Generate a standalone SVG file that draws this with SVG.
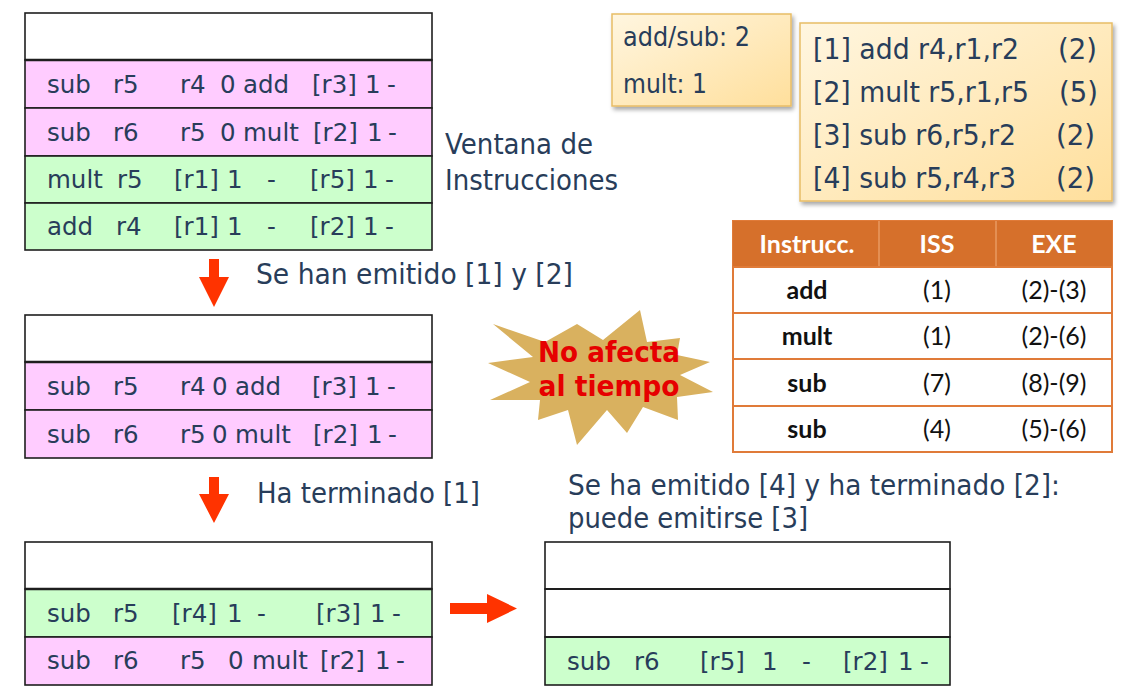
<svg xmlns="http://www.w3.org/2000/svg" width="1128" height="690" viewBox="0 0 1128 690">
<defs>
<linearGradient id="note" x1="0" y1="0" x2="1" y2="1">
<stop offset="0" stop-color="#fff6e0"/>
<stop offset="1" stop-color="#ffdf9c"/>
</linearGradient>
<filter id="shadow" x="-10%" y="-10%" width="125%" height="125%">
<feDropShadow dx="2" dy="3" stdDeviation="2" flood-color="#000" flood-opacity="0.35"/>
</filter>
<style>
.t{font-family:"DejaVu Sans",Verdana,sans-serif;fill:#283d5a}
.r{font-size:24.5px}
.lbl{font-size:28px}
.nt{font-size:26px}
.wh{fill:#ffffff}
.pk{fill:#ffccff}
.gr{fill:#ccffcc}
.cell{stroke:#1e1e1e;stroke-width:1.6}
.tb{font-family:Lato,"Open Sans",sans-serif;font-size:25px;text-anchor:middle;fill:#111}
.tbh{font-weight:bold;fill:#ffffff}
.b{font-weight:bold}
.arrow{fill:#ff3300}
.star{font-family:"DejaVu Sans",Verdana,sans-serif;font-weight:bold;font-size:28px;fill:#e60000;text-anchor:middle}
</style>
</defs>
<rect width="1128" height="690" fill="#ffffff"/>

<g id="window1">
<rect class="wh cell" x="25" y="13" width="407" height="47"/>
<rect class="pk cell" x="25" y="60" width="407" height="48"/>
<rect class="pk cell" x="25" y="108" width="407" height="48"/>
<rect class="gr cell" x="25" y="156" width="407" height="47"/>
<rect class="gr cell" x="25" y="203" width="407" height="47"/>
<line x1="25" y1="60" x2="432" y2="60" stroke="#1e1e1e" stroke-width="2.5"/>
<g class="t r">
<text x="47" y="93">sub</text><text x="113" y="93">r5</text><text x="180" y="93">r4</text><text x="220" y="93">0</text><text x="243" y="93">add</text><text x="312" y="93">[r3]</text><text x="365" y="93">1</text><text x="387" y="93">-</text>
<text x="47" y="141">sub</text><text x="113" y="141">r6</text><text x="180" y="141">r5</text><text x="220" y="141">0</text><text x="243" y="141">mult</text><text x="313" y="141">[r2]</text><text x="367" y="141">1</text><text x="388" y="141">-</text>
<text x="47" y="188">mult</text><text x="117" y="188">r5</text><text x="174" y="188">[r1]</text><text x="227" y="188">1</text><text x="267" y="188">-</text><text x="310" y="188">[r5]</text><text x="363" y="188">1</text><text x="385" y="188">-</text>
<text x="47" y="235">add</text><text x="116" y="235">r4</text><text x="174" y="235">[r1]</text><text x="227" y="235">1</text><text x="267" y="235">-</text><text x="310" y="235">[r2]</text><text x="363" y="235">1</text><text x="385" y="235">-</text>
</g>
</g>

<g id="window2">
<rect class="wh cell" x="25" y="315" width="407" height="47"/>
<rect class="pk cell" x="25" y="362" width="407" height="48"/>
<rect class="pk cell" x="25" y="410" width="407" height="48"/>
<line x1="25" y1="362" x2="432" y2="362" stroke="#1e1e1e" stroke-width="2.5"/>
<g class="t r">
<text x="47" y="395">sub</text><text x="113" y="395">r5</text><text x="180" y="395">r4</text><text x="212" y="395">0</text><text x="235" y="395">add</text><text x="312" y="395">[r3]</text><text x="365" y="395">1</text><text x="387" y="395">-</text>
<text x="47" y="443">sub</text><text x="113" y="443">r6</text><text x="180" y="443">r5</text><text x="212" y="443">0</text><text x="235" y="443">mult</text><text x="313" y="443">[r2]</text><text x="367" y="443">1</text><text x="388" y="443">-</text>
</g>
</g>

<g id="window3">
<rect class="wh cell" x="25" y="542" width="407" height="47"/>
<rect class="gr cell" x="25" y="589" width="407" height="48"/>
<rect class="pk cell" x="25" y="637" width="407" height="48"/>
<line x1="25" y1="589" x2="432" y2="589" stroke="#1e1e1e" stroke-width="2.5"/>
<g class="t r">
<text x="47" y="622">sub</text><text x="113" y="622">r5</text><text x="172" y="622">[r4]</text><text x="227" y="622">1</text><text x="257" y="622">-</text><text x="316" y="622">[r3]</text><text x="370" y="622">1</text><text x="392" y="622">-</text>
<text x="47" y="669">sub</text><text x="113" y="669">r6</text><text x="180" y="669">r5</text><text x="228" y="669">0</text><text x="252" y="669">mult</text><text x="320" y="669">[r2]</text><text x="375" y="669">1</text><text x="396" y="669">-</text>
</g>
</g>

<g id="window4">
<rect class="wh cell" x="545" y="542" width="405" height="47"/>
<rect class="wh cell" x="545" y="589" width="405" height="48"/>
<rect class="gr cell" x="545" y="637" width="405" height="48"/>
<line x1="545" y1="589" x2="950" y2="589" stroke="#1e1e1e" stroke-width="2.2"/>
<line x1="545" y1="637" x2="950" y2="637" stroke="#1e1e1e" stroke-width="2.2"/>
<g class="t r">
<text x="567" y="670">sub</text><text x="634" y="670">r6</text><text x="700" y="670">[r5]</text><text x="762" y="670">1</text><text x="802" y="670">-</text><text x="843" y="670">[r2]</text><text x="898" y="670">1</text><text x="920" y="670">-</text>
</g>
</g>

<g id="labels" class="t lbl">
<text x="445" y="154" textLength="148" lengthAdjust="spacingAndGlyphs">Ventana de</text>
<text x="445" y="190" textLength="173" lengthAdjust="spacingAndGlyphs">Instrucciones</text>
<text x="256" y="284" textLength="317" lengthAdjust="spacingAndGlyphs">Se han emitido [1] y [2]</text>
<text x="257" y="503" textLength="223" lengthAdjust="spacingAndGlyphs">Ha terminado [1]</text>
<text x="568" y="495" textLength="492" lengthAdjust="spacingAndGlyphs">Se ha emitido [4] y ha terminado [2]:</text>
<text x="568" y="528" textLength="240" lengthAdjust="spacingAndGlyphs">puede emitirse [3]</text>
</g>

<g id="units">
<rect x="612" y="14" width="179" height="92" fill="url(#note)" stroke="#e8bd66" stroke-width="1.5" filter="url(#shadow)"/>
<text class="t nt" x="623" y="46" textLength="127" lengthAdjust="spacingAndGlyphs">add/sub: 2</text>
<text class="t nt" x="623" y="93" textLength="84" lengthAdjust="spacingAndGlyphs">mult: 1</text>
</g>

<g id="program">
<rect x="800" y="23" width="312" height="178" fill="url(#note)" stroke="#e8bd66" stroke-width="1.5" filter="url(#shadow)"/>
<g class="t" style="font-size:27.5px">
<text x="813" y="59" textLength="206" lengthAdjust="spacingAndGlyphs">[1] add r4,r1,r2</text><text x="1058" y="59">(2)</text>
<text x="813" y="102" textLength="216" lengthAdjust="spacingAndGlyphs">[2] mult r5,r1,r5</text><text x="1059" y="102">(5)</text>
<text x="813" y="145" textLength="203" lengthAdjust="spacingAndGlyphs">[3] sub r6,r5,r2</text><text x="1056" y="145">(2)</text>
<text x="813" y="188" textLength="203" lengthAdjust="spacingAndGlyphs">[4] sub r5,r4,r3</text><text x="1056" y="188">(2)</text>
</g>
</g>

<g id="table">
<rect x="733" y="221" width="379" height="231" fill="#ffffff" stroke="#e07b39" stroke-width="2"/>
<rect x="733" y="221" width="379" height="46" fill="#d6702b"/>
<line x1="879" y1="221" x2="879" y2="267" stroke="#e89a62" stroke-width="1.5"/>
<line x1="996" y1="221" x2="996" y2="267" stroke="#e89a62" stroke-width="1.5"/>
<g stroke="#e07b39" stroke-width="2">
<line x1="733" y1="267" x2="1112" y2="267"/>
<line x1="733" y1="313" x2="1112" y2="313"/>
<line x1="733" y1="359" x2="1112" y2="359"/>
<line x1="733" y1="406" x2="1112" y2="406"/>
</g>
<text class="tb tbh" x="807" y="253">Instrucc.</text>
<text class="tb tbh" x="937" y="253">ISS</text>
<text class="tb tbh" x="1054" y="253">EXE</text>
<text class="tb b" x="807" y="299">add</text><text class="tb" x="937" y="299">(1)</text><text class="tb" x="1054" y="299">(2)-(3)</text>
<text class="tb b" x="807" y="345">mult</text><text class="tb" x="937" y="345">(1)</text><text class="tb" x="1054" y="345">(2)-(6)</text>
<text class="tb b" x="807" y="392">sub</text><text class="tb" x="937" y="392">(7)</text><text class="tb" x="1054" y="392">(8)-(9)</text>
<text class="tb b" x="807" y="438">sub</text><text class="tb" x="937" y="438">(4)</text><text class="tb" x="1054" y="438">(5)-(6)</text>
</g>

<g id="starburst">
<polygon fill="#d9b15f" points="640,310 647,342 680,338 677,355 710,362 680,375 713,392 677,397 678,420 643,407 627,433 607,410 577,445 568,410 538,420 540,400 490,400 530,382 488,363 533,357 493,324 545,342 577,324 603,340"/>
<text class="star" x="609" y="362" textLength="142" lengthAdjust="spacingAndGlyphs">No afecta</text>
<text class="star" x="609" y="396" textLength="141" lengthAdjust="spacingAndGlyphs">al tiempo</text>
</g>

<g id="connectors">
<polygon class="arrow" points="209,259 219,259 219,277 229,277 214,307 199,277 209,277"/>
<polygon class="arrow" points="209,477 219,477 219,494 229,494 214,523 199,494 209,494"/>
<polygon class="arrow" points="450,603 487,603 487,594 517,608.5 487,623 487,614 450,614"/>
</g>
</svg>
